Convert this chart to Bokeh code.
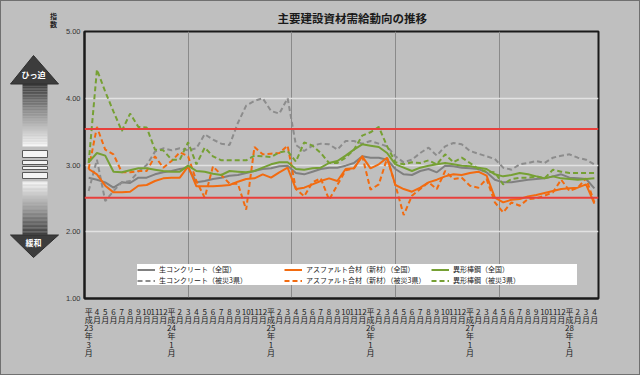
import re
import numpy as np
from bokeh.plotting import figure
from bokeh.layouts import row
from bokeh.models import (Range1d, FixedTicker, Span, Legend, LegendItem,
                          NumeralTickFormatter)
from bokeh.core.properties import value
from bokeh.embed import file_html
from bokeh.resources import INLINE

# ---------------- data ----------------
month_labels = [
    "平成23年3月", "4月", "5月", "6月", "7月", "8月", "9月", "10月", "11月", "12月",
    "平成24年1月", "2月", "3月", "4月", "5月", "6月", "7月", "8月", "9月", "10月", "11月", "12月",
    "平成25年1月", "2月", "3月", "4月", "5月", "6月", "7月", "8月", "9月", "10月", "11月", "12月",
    "平成26年1月", "2月", "3月", "4月", "5月", "6月", "7月", "8月", "9月", "10月", "11月", "12月",
    "平成27年1月", "2月", "3月", "4月", "5月", "6月", "7月", "8月", "9月", "10月", "11月", "12月",
    "平成28年1月", "2月", "3月", "4月",
]

namacon_zenkoku = [2.81, 2.78, 2.74, 2.66, 2.74, 2.73, 2.81, 2.81, 2.86, 2.89, 2.91, 2.94, 2.96, 2.74, 2.76, 2.79,
                   2.81, 2.84, 2.85, 2.88, 2.91, 2.94, 2.95, 2.98, 2.99, 2.88, 2.86, 2.90, 2.94, 2.96, 2.96, 2.99,
                   3.03, 3.13, 3.11, 3.11, 3.08, 2.94, 2.86, 2.85, 2.91, 2.94, 2.89, 2.99, 2.98, 2.96, 2.95, 2.94,
                   2.89, 2.78, 2.74, 2.74, 2.76, 2.78, 2.79, 2.80, 2.83, 2.86, 2.81, 2.80, 2.79, 2.65]
namacon_hisai = [2.61, 3.08, 2.46, 2.61, 2.74, 2.76, 2.90, 3.00, 3.20, 3.25, 3.22, 3.25, 3.22, 3.25, 3.46, 3.38,
                 3.32, 3.30, 3.63, 3.89, 3.96, 4.00, 3.81, 3.77, 4.00, 3.30, 3.21, 3.29, 3.32, 3.31, 3.23, 3.36,
                 3.36, 3.32, 3.36, 3.32, 3.28, 3.13, 3.04, 3.08, 3.18, 3.26, 3.14, 3.28, 3.33, 3.31, 3.21, 3.17,
                 3.13, 3.09, 2.96, 2.93, 3.01, 3.03, 3.06, 3.03, 3.11, 3.14, 3.16, 3.11, 3.08, 3.01]
asphalt_zenkoku = [2.94, 2.86, 2.69, 2.59, 2.59, 2.60, 2.69, 2.70, 2.76, 2.80, 2.81, 2.81, 2.98, 2.68, 2.68, 2.68,
                   2.69, 2.70, 2.75, 2.79, 2.80, 2.86, 2.81, 2.89, 2.96, 2.64, 2.66, 2.71, 2.76, 2.80, 2.76, 2.94,
                   2.95, 3.13, 2.95, 3.01, 3.11, 2.70, 2.64, 2.60, 2.66, 2.74, 2.78, 2.83, 2.86, 2.85, 2.88, 2.90,
                   2.84, 2.51, 2.44, 2.48, 2.49, 2.53, 2.55, 2.58, 2.61, 2.64, 2.65, 2.66, 2.71, 2.42]
asphalt_hisai = [2.94, 3.57, 3.23, 3.16, 2.89, 2.89, 2.91, 2.91, 3.13, 2.96, 3.06, 3.19, 3.13, 2.76, 2.51, 2.98,
                 2.85, 2.72, 2.72, 2.33, 3.27, 3.16, 3.17, 3.18, 3.29, 2.64, 2.53, 2.74, 2.80, 2.48, 2.70, 2.92,
                 2.95, 3.14, 2.63, 2.71, 3.10, 2.70, 2.25, 2.54, 2.64, 2.74, 2.64, 2.91, 2.79, 2.81, 2.69, 2.66,
                 2.79, 2.44, 2.29, 2.44, 2.39, 2.49, 2.50, 2.54, 2.59, 2.78, 2.61, 2.66, 2.80, 2.44]
tekkin_zenkoku = [3.04, 3.18, 3.14, 2.90, 2.89, 2.92, 2.95, 2.95, 2.93, 2.91, 2.90, 2.90, 2.99, 2.91, 2.90, 2.87,
                  2.85, 2.91, 2.90, 2.89, 2.91, 2.96, 3.01, 3.04, 3.04, 2.94, 2.93, 2.95, 2.96, 3.03, 3.06, 3.14,
                  3.23, 3.31, 3.29, 3.27, 3.18, 3.01, 2.96, 2.91, 2.96, 2.99, 3.01, 3.03, 3.01, 2.99, 2.98, 2.96,
                  2.94, 2.86, 2.83, 2.85, 2.88, 2.86, 2.83, 2.80, 2.83, 2.80, 2.79, 2.78, 2.79, 2.80]
tekkin_hisai = [3.03, 4.43, 4.10, 3.80, 3.51, 3.77, 3.57, 3.56, 3.23, 3.22, 3.08, 3.08, 3.34, 3.01, 3.26, 3.13,
                3.07, 3.07, 3.07, 3.07, 3.14, 3.13, 3.12, 3.19, 3.21, 3.05, 3.34, 3.29, 3.18, 3.03, 3.03, 3.11,
                3.23, 3.44, 3.49, 3.57, 3.28, 3.04, 3.01, 3.04, 3.03, 3.07, 3.01, 3.16, 3.04, 3.11, 3.03, 2.94,
                2.90, 2.89, 2.71, 2.79, 2.81, 2.81, 2.83, 2.80, 2.93, 2.90, 2.88, 2.88, 2.88, 2.88]

series_names = ["生コンクリート（全国）", "生コンクリート（被災3県）",
                "アスファルト合材（新材）（全国）", "アスファルト合材（新材）（被災3県）",
                "異形棒鋼（全国）", "異形棒鋼（被災3県）"]
threshold_upper = 3.54
threshold_lower = 2.51
y_ticks = [1, 2, 3, 4, 5]

# ---------------- styling ----------------
BG = "#bfbfbf"
JP = "Noto Sans CJK JP"
GRAY = "#808080"
ORANGE = "#f26b10"
GREEN = "#76a034"

W_LEFT, W_MAIN, H = 59, 579, 373
x = list(range(len(month_labels)))


def vertical(s):
    return "\n".join(re.findall(r"\d+|\D", s))


# ---------------- main chart ----------------
p = figure(width=W_MAIN, height=H, output_backend="svg", toolbar_location=None,
           x_range=Range1d(-0.5, len(x) - 0.5), y_range=Range1d(1, 5),
           min_border_left=24, min_border_right=41, min_border_top=29, min_border_bottom=76,
           background_fill_color=BG, border_fill_color=BG)
p.outline_line_color = "#1a1a1a"
p.outline_line_width = 2

p.title.text = "主要建設資材需給動向の推移"
p.title.align = "left"
p.title.offset = 193
p.title.standoff = 12
p.title.text_font = JP
p.title.text_font_size = "11.5px"
p.title.text_font_style = "bold"
p.title.text_color = "#1a1a1a"

p.yaxis.ticker = FixedTicker(ticks=y_ticks)
p.yaxis.formatter = NumeralTickFormatter(format="0.00")
p.yaxis.major_label_text_font = "Liberation Sans"
p.yaxis.major_label_text_font_size = "7.5px"
p.yaxis.major_label_text_color = "#333333"
p.yaxis.major_label_standoff = 4
p.yaxis.axis_line_color = "#1a1a1a"
p.yaxis.axis_line_width = 2

p.xaxis.ticker = FixedTicker(ticks=x)
p.xaxis.major_label_overrides = {i: vertical(s) for i, s in zip(x, month_labels)}
p.xaxis.major_label_text_font = JP
p.xaxis.major_label_text_font_size = "8px"
p.xaxis.major_label_text_line_height = 0.75
p.xaxis.major_label_text_color = "#222222"
p.xaxis.major_label_standoff = 7
p.xaxis.axis_line_color = "#1a1a1a"
p.xaxis.axis_line_width = 2

for ax in (p.xaxis, p.yaxis):
    ax.major_tick_in = 0
    ax.major_tick_out = 0
    ax.minor_tick_in = 0
    ax.minor_tick_out = 0

p.ygrid.ticker = FixedTicker(ticks=y_ticks[1:-1])
p.ygrid.grid_line_color = "#e2e2e2"
p.ygrid.grid_line_width = 1.5
p.xgrid.ticker = FixedTicker(ticks=[-0.5 + 12.5 * k for k in range(1, 5)])
p.xgrid.grid_line_color = "#8a8a8a"
p.xgrid.grid_line_width = 1

for loc in (threshold_upper, threshold_lower):
    p.add_layout(Span(location=loc, dimension="width", line_color="#e8403c", line_width=2))

specs = [
    (namacon_zenkoku, GRAY, "solid"),
    (namacon_hisai, "#8c8c8c", "5 3"),
    (asphalt_zenkoku, ORANGE, "solid"),
    (asphalt_hisai, ORANGE, "5 3"),
    (tekkin_zenkoku, GREEN, "solid"),
    (tekkin_hisai, GREEN, "5 3"),
]
items = []
for (ys, col, dash), name in zip(specs, series_names):
    r = p.line(x, ys, line_color=col, line_width=2, line_dash=dash)
    items.append(LegendItem(label=name, renderers=[r]))

legend = Legend(items=items, orientation="vertical", nrows=2, location=(53, 13))
legend.label_text_font = JP
legend.label_text_font_size = "7px"
legend.label_text_color = "#222222"
legend.label_height = 9
legend.label_width = 124
legend.glyph_height = 9
legend.glyph_width = 18
legend.label_standoff = 4
legend.spacing = 1
legend.padding = 3
legend.margin = 0
legend.background_fill_color = "white"
legend.background_fill_alpha = 1
legend.border_line_color = None
p.add_layout(legend)

# ---------------- left indicator arrow ----------------
a = figure(width=W_LEFT, height=H, output_backend="svg", toolbar_location=None,
           x_range=Range1d(0, W_LEFT), y_range=Range1d(H, 0),
           x_axis_location=None, y_axis_location=None, min_border=0,
           background_fill_color=BG, border_fill_color=BG, outline_line_color=None)
a.grid.visible = False
a.frame_align = False


def gradient(x0, x1, y0, y1, c0, c1, nb=40):
    ys = np.linspace(y0, y1, nb + 1)
    cols = []
    for k in range(nb):
        t = (k + 0.5) / nb
        c = [int(round(c0[j] + (c1[j] - c0[j]) * t)) for j in range(3)]
        cols.append("#%02x%02x%02x" % tuple(c))
    a.quad(left=x0, right=x1, top=ys[:-1], bottom=ys[1:], fill_color=cols, line_color=None)


DARK = (58, 58, 58)
LIGHT = (248, 248, 248)
# offset of 1 px for outer border
gradient(21, 46, 82, 145, DARK, LIGHT)
gradient(21, 46, 180, 234, LIGHT, DARK)
a.patch([9, 57, 32], [82.5, 82.5, 54], fill_color="#3c3c3c", line_color="#2e2e2e")
a.patch([9, 57, 32], [233.5, 233.5, 256], fill_color="#3c3c3c", line_color="#2e2e2e")
a.quad(left=21, right=46, top=[149, 159, 165, 171], bottom=[156, 163, 168, 177],
       fill_color="#f4f4f4", line_color="#5a5a5a", line_width=1)
a.text(x=[32], y=[73], text=["ひっ迫"], text_color="white", text_font=value(JP),
       text_font_size="8px", text_font_style="bold", text_align="center", text_baseline="middle")
a.text(x=[32], y=[241], text=["緩和"], text_color="white", text_font=value(JP),
       text_font_size="8px", text_font_style="bold", text_align="center", text_baseline="middle")
a.text(x=[52, 52], y=[14, 22], text=["指", "数"], text_color="#222222", text_font=value(JP),
       text_font_size="7px", text_font_style="bold", text_align="center", text_baseline="middle")

layout = row(a, p, spacing=0, styles={"border": "1px solid #707070", "background": BG})

open("out.html", "w").write(file_html(layout, INLINE))
